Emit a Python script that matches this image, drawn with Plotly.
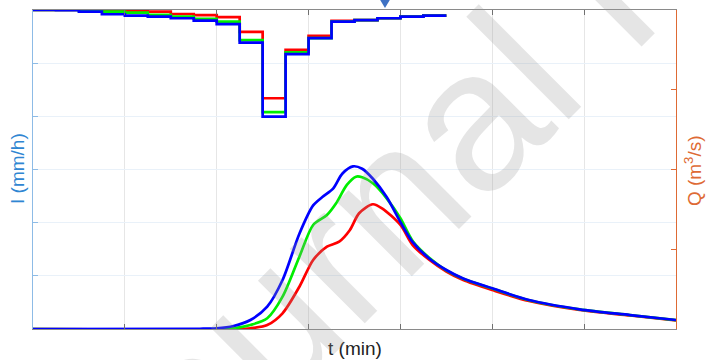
import plotly.graph_objects as go

# ---- Hyetograph (rain intensity, steps of 15 min) ----
rain_t = [0, 15, 30, 45, 60, 75, 90, 105, 120, 135, 150, 165, 180, 195, 210, 225, 240, 255, 270]
rain_red = [0, 0, 0, 0.1, 0.3, 0.6, 1.5, 1.9, 2.7, 8.2, 33.2, 15.0, 9.7, 4.1, 3.8, 3.1, 2.5, 2.1]
rain_green = [0, 0, 0.3, 0.6, 1.0, 1.8, 2.5, 3.3, 4.4, 11.3, 38.4, 15.9, 10.6, 4.4, 3.8, 3.1, 2.5, 2.1]
rain_blue = [0, 0.1, 0.6, 1.6, 2.1, 2.5, 3.1, 4.0, 5.3, 12.3, 40.1, 16.6, 10.6, 4.4, 3.8, 3.1, 2.5, 2.1]

# ---- Hydrographs (discharge) ----
q_blue_t = [0, 109, 120, 131, 142, 153, 163, 174, 183, 189, 196, 202, 209, 215, 222, 231, 240, 248, 259, 270, 281, 300, 324, 357, 390, 420]
q_blue = [0, 0.03, 0.09, 0.38, 1.13, 2.80, 6.14, 11.95, 15.50, 16.54, 17.59, 19.47, 20.39, 20.10, 18.84, 16.54, 13.40, 10.89, 8.81, 7.40, 6.33, 5.10, 3.63, 2.47, 1.75, 1.13]

q_green_t = [0, 120, 131, 142, 153, 163, 174, 183, 192, 198, 205, 211, 215, 222, 231, 240, 248, 259, 270, 281, 300, 324, 357, 390, 420]
q_green = [0, 0, 0.09, 0.50, 1.34, 4.05, 9.07, 13.04, 14.29, 15.76, 18.06, 19.10, 19.02, 18.27, 16.39, 13.88, 11.03, 8.90, 7.35, 6.30, 5.07, 3.61, 2.45, 1.74, 1.12]

q_red_t = [0, 131, 142, 153, 163, 174, 183, 192, 200, 207, 213, 222, 228, 240, 248, 259, 270, 281, 300, 324, 357, 390, 420]
q_red = [0, 0, 0.09, 0.50, 1.97, 5.30, 8.65, 10.32, 10.95, 12.41, 14.51, 15.64, 15.13, 13.04, 10.53, 8.65, 7.21, 6.14, 4.89, 3.51, 2.38, 1.69, 1.07]

x_ticks = [0, 60, 120, 180, 240, 300, 360, 420]

BLUE_AX = "#2f86d2"
ORANGE_AX = "#de6a34"

fig = go.Figure()

for t, q, c in [(q_red_t, q_red, "#ff0000"), (q_green_t, q_green, "#00ee00"), (q_blue_t, q_blue, "#0000ff")]:
    fig.add_trace(go.Scatter(x=t, y=q, mode="lines", yaxis="y2",
                             line=dict(color=c, width=2.7, shape="spline", smoothing=0.8),
                             showlegend=False, hoverinfo="skip"))

for vals, c in [(rain_red, "#ff0000"), (rain_green, "#00ee00"), (rain_blue, "#0000ff")]:
    fig.add_trace(go.Scatter(x=rain_t, y=vals + [vals[-1]], mode="lines", yaxis="y",
                             line=dict(color=c, width=2.7, shape="hv"),
                             showlegend=False, hoverinfo="skip"))

fig.update_layout(
    width=709, height=360,
    margin=dict(l=33, r=33, t=10, b=31),
    paper_bgcolor="white", plot_bgcolor="white",
    font=dict(family="Liberation Sans, Arial, sans-serif", size=19),
    xaxis=dict(range=[0, 420], tickvals=x_ticks, showticklabels=False,
               ticks="inside", ticklen=5, tickcolor="#707070", tickwidth=1,
               showline=True, linecolor="#8a8a8a", linewidth=1, mirror="ticks",
               showgrid=True, gridcolor="#e6e6e6", gridwidth=1, zeroline=False),
    yaxis=dict(range=[120, 0], dtick=20, showticklabels=False,
               ticks="inside", ticklen=5, tickcolor="#8dbbe6",
               showline=True, linecolor="#8dbbe6", linewidth=1,
               showgrid=True, gridcolor="#e9f1f9", gridwidth=1, zeroline=False),
    yaxis2=dict(range=[0, 40], dtick=10, overlaying="y", side="right", showticklabels=False,
                ticks="inside", ticklen=5, tickcolor=ORANGE_AX,
                showline=True, linecolor=ORANGE_AX, linewidth=1,
                showgrid=False, zeroline=False),
)

fig.add_annotation(text="I (mm/h)", xref="paper", yref="paper", x=-0.0233, y=0.5016,
                   textangle=-90, showarrow=False, xanchor="center", yanchor="middle",
                   font=dict(color=BLUE_AX, size=19))
fig.add_annotation(text="Q (m<sup>3</sup>/s)", xref="paper", yref="paper", x=1.0264, y=0.498,
                   textangle=-90, showarrow=False, xanchor="center", yanchor="middle",
                   font=dict(color=ORANGE_AX, size=19))
fig.add_annotation(text="t (min)", xref="paper", yref="paper", x=0.5008, y=-0.0596,
                   showarrow=False, xanchor="center", yanchor="middle",
                   font=dict(color="#222222", size=19))

# watermark
fig.add_annotation(text="Journal Pre-proof", xref="paper", yref="paper", x=0.919, y=1.141,
                   textangle=-45, showarrow=False, xanchor="center", yanchor="middle",
                   font=dict(color="rgba(150,150,150,0.25)", size=200,
                             family="Liberation Sans, Arial, sans-serif"))

# small marker triangle above the plot
fig.add_shape(type="path", xref="paper", yref="paper",
              path="M 0.5381,1.0376 L 0.5568,1.0376 L 0.5474,1.0063 Z",
              fillcolor="#3f72c4", line=dict(width=0))

fig.write_html("out.html", config={"displayModeBar": False},
               post_script="document.body.style.margin='0px';document.body.style.overflow='hidden';")
